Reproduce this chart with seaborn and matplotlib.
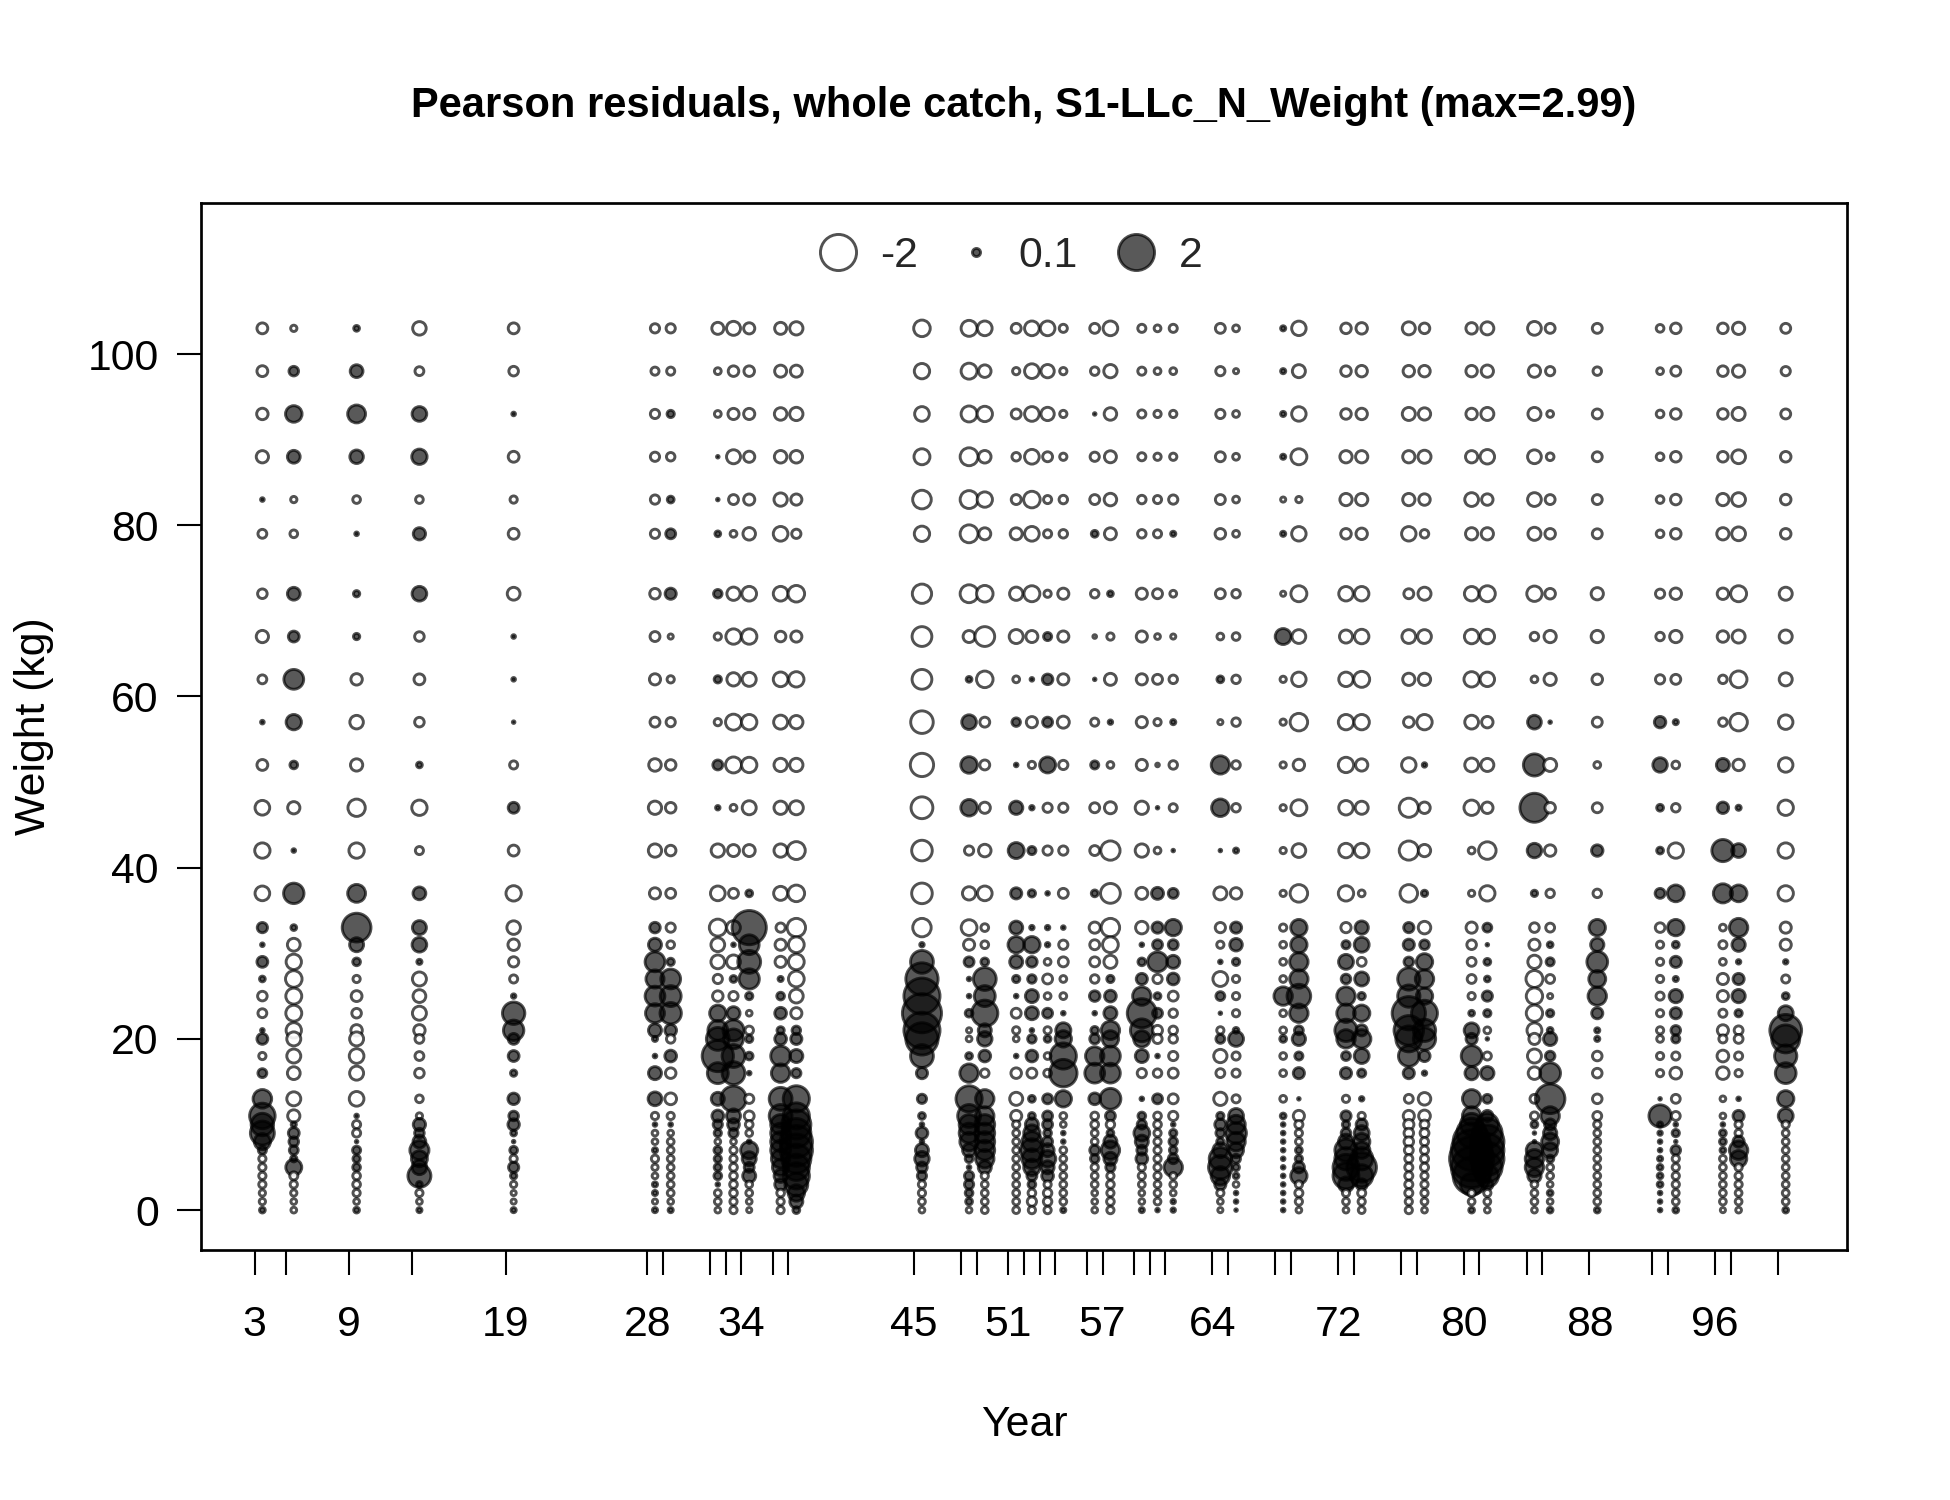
import numpy as np
import pandas as pd
import matplotlib
matplotlib.use("Agg")
import matplotlib.pyplot as plt
import seaborn as sns
from matplotlib.lines import Line2D

# ---------------- data ----------------
years = [3, 5, 9, 13, 19, 28, 29, 32, 33, 34, 36, 37, 45, 48, 49, 51, 52, 53, 54,
         56, 57, 59, 60, 61, 64, 65, 68, 69, 72, 73, 76, 77, 80, 81, 84, 85, 88,
         92, 93, 96, 97, 100]
labeled_years = [3, 9, 19, 28, 34, 45, 51, 57, 64, 72, 80, 88, 96]
# weight bins, listed from top (103 kg) to bottom (0 kg)
weights = [103, 98, 93, 88, 83, 79, 72, 67, 62, 57, 52, 47, 42, 37,
           33, 31, 29, 27, 25, 23, 21, 20, 18, 16, 13, 11, 10, 9, 8, 7, 6, 5, 4, 3, 2, 1, 0]
y_ticks = [0, 20, 40, 60, 80, 100]
legend_values = [-2, 0.1, 2]
legend_labels = ["-2", "0.1", "2"]
max_resid = 2.99
title = "Pearson residuals, whole catch, S1-LLc_N_Weight (max=2.99)"

# Pearson residuals per year, same order as `weights`
r3 = [-0.18,-0.18,-0.2,-0.23,0.02,-0.12,-0.14,-0.23,-0.12,0.02,-0.18,-0.33,-0.36,-0.33,
      0.16,0.02,0.18,0.05,-0.14,-0.12,0.02,0.18,-0.08,0.12,0.53,1.0,0.77,0.88,0.4,0.1,-0.08,-0.08,-0.08,-0.08,-0.06,-0.06,0.05]
r5 = [-0.06,0.14,0.42,0.25,-0.06,-0.09,0.25,0.18,0.6,0.36,0.09,-0.23,0.02,0.64,
      0.05,-0.25,-0.36,-0.42,-0.39,-0.39,-0.36,-0.3,-0.3,-0.25,-0.3,-0.23,0.04,0.18,0.14,0.12,0.06,0.39,-0.1,-0.08,-0.06,-0.05,-0.05]
r9 = [0.05,0.25,0.49,0.28,-0.09,0.02,0.06,0.06,-0.2,-0.28,-0.23,-0.46,-0.36,0.49,
      1.27,0.3,0.09,-0.08,-0.18,-0.14,-0.2,-0.3,-0.33,-0.3,-0.33,0.02,-0.1,-0.1,0.01,0.1,0.08,0.09,-0.09,-0.09,-0.08,-0.05,0.05]
r13 = [-0.28,-0.12,0.33,0.36,-0.09,0.23,0.33,-0.14,-0.18,-0.14,0.05,-0.36,-0.1,0.25,
       0.3,0.33,0.04,-0.3,-0.25,-0.3,-0.2,-0.12,-0.12,-0.14,-0.09,-0.06,0.23,0.14,0.25,0.56,0.39,0.33,0.81,0.05,-0.08,-0.05,0.04]
r19 = [-0.18,-0.14,0.02,-0.18,-0.08,-0.18,-0.25,0.02,0.02,0.01,-0.1,0.18,-0.18,-0.36,
       -0.28,-0.2,-0.16,-0.1,0.03,0.77,0.64,0.18,0.18,0.06,0.2,0.14,0.2,0.05,0.01,0.09,-0.08,0.16,0.06,-0.06,-0.04,-0.04,0.04]
r28 = [-0.13,-0.1,-0.13,-0.13,-0.13,-0.13,-0.17,-0.15,-0.19,-0.15,-0.24,-0.27,-0.27,-0.19,
       0.17,0.26,0.6,0.5,0.6,0.55,0.26,0.04,0.02,0.26,0.29,-0.08,0.02,-0.05,-0.05,0.04,-0.08,-0.06,-0.05,0.04,0.04,-0.04,0.04]
r29 = [-0.13,-0.1,0.08,-0.11,0.07,0.15,0.19,-0.04,-0.08,-0.13,-0.17,-0.17,-0.17,-0.15,
       -0.13,-0.09,0.08,0.6,0.67,0.7,0.21,-0.11,0.21,-0.17,-0.21,-0.08,0.02,-0.05,-0.07,-0.07,-0.07,-0.07,-0.07,-0.07,-0.07,-0.05,0.04]
r32 = [-0.22,-0.07,-0.07,0.01,0.01,0.05,0.11,-0.08,0.08,-0.08,0.15,0.03,-0.27,-0.33,
       -0.44,-0.29,-0.29,-0.13,-0.17,0.41,0.6,0.8,1.5,0.67,0.26,0.21,0.13,0.08,-0.05,0.09,0.08,0.08,0.09,0.02,-0.07,-0.07,-0.05]
r33 = [-0.3,-0.17,-0.19,-0.3,-0.15,-0.07,-0.27,-0.36,-0.27,-0.39,-0.39,-0.07,-0.22,-0.15,
       -0.29,0.02,-0.29,0.07,-0.13,0.26,0.67,0.6,0.8,0.8,1.0,0.3,0.21,0.13,-0.05,-0.08,-0.08,-0.09,-0.09,-0.09,-0.09,-0.08,-0.08]
r34 = [-0.19,-0.17,-0.19,-0.19,-0.19,-0.24,-0.33,-0.36,-0.3,-0.36,-0.36,-0.3,-0.22,0.07,
       1.8,0.6,0.8,0.63,0.08,-0.05,-0.11,0.08,0.09,0.02,-0.13,-0.15,-0.09,-0.07,0.02,0.45,0.3,0.15,0.26,-0.07,-0.07,-0.05,-0.04]
r36 = [-0.22,-0.22,-0.24,-0.24,-0.27,-0.33,-0.33,-0.17,-0.33,-0.3,-0.27,-0.27,-0.27,-0.3,
       -0.13,-0.19,-0.19,0.04,0.09,0.21,0.08,0.21,0.6,0.52,0.8,0.8,0.6,0.6,0.6,0.6,0.52,0.41,0.26,0.21,-0.09,-0.08,-0.08]
r37 = [-0.27,-0.22,-0.27,-0.24,-0.19,-0.13,-0.42,-0.19,-0.36,-0.27,-0.27,-0.3,-0.49,-0.42,
       -0.52,-0.38,-0.38,-0.38,-0.29,-0.19,0.11,0.19,0.26,0.13,1.05,1.05,1.3,1.3,1.6,1.6,1.3,1.05,1.05,0.8,0.41,0.26,0.07]
r45 = [-0.42,-0.36,-0.33,-0.39,-0.53,-0.36,-0.57,-0.6,-0.6,-0.78,-0.83,-0.73,-0.65,-0.65,
       -0.52,0.03,0.8,1.6,2.0,2.35,2.0,1.6,0.8,0.19,0.13,0.07,0.02,0.21,0.02,0.26,0.32,0.17,0.13,-0.08,-0.08,-0.07,-0.05]
r48 = [-0.39,-0.39,-0.39,-0.49,-0.49,-0.49,-0.49,-0.22,0.05,0.33,0.42,0.42,-0.13,-0.27,
       -0.38,-0.19,0.15,0.02,0.02,0.09,-0.04,-0.05,0.07,0.52,1.05,0.8,0.6,0.6,0.52,0.26,0.09,0.02,0.13,0.13,0.09,0.07,-0.05]
r49 = [-0.33,-0.24,-0.36,-0.24,-0.36,-0.22,-0.42,-0.6,-0.42,-0.15,-0.15,-0.19,-0.24,-0.33,
       -0.09,-0.09,0.09,0.8,0.67,1.05,0.26,0.32,0.21,-0.11,0.52,0.52,0.6,0.6,0.6,0.6,0.52,0.26,-0.08,-0.07,-0.07,-0.07,-0.07]
r51 = [-0.15,-0.08,-0.15,-0.11,-0.15,-0.22,-0.27,-0.3,-0.07,0.11,0.02,0.27,0.39,0.19,
       0.26,0.41,0.26,0.08,0.02,-0.15,-0.08,-0.05,0.02,-0.17,-0.26,-0.19,-0.08,-0.07,-0.07,-0.07,-0.07,-0.07,-0.07,-0.07,-0.07,-0.07,-0.07]
r52 = [-0.33,-0.33,-0.33,-0.33,-0.42,-0.33,-0.39,-0.22,0.02,-0.19,-0.08,0.03,0.1,0.08,
       0.03,0.41,0.17,0.11,0.26,0.26,0.02,0.11,0.21,-0.15,0.07,0.07,0.26,0.41,0.6,0.8,0.6,0.41,0.15,0.09,-0.09,-0.13,-0.08]
r53 = [-0.33,-0.27,-0.27,-0.15,-0.1,-0.1,-0.08,0.1,0.17,0.15,0.39,-0.13,-0.13,0.02,
       0.03,0.03,-0.07,-0.15,-0.07,0.15,-0.08,0.07,-0.07,-0.09,0.15,0.15,0.15,0.09,0.15,0.26,0.41,0.26,0.21,-0.08,-0.11,-0.11,-0.08]
r54 = [-0.1,-0.08,-0.08,-0.08,-0.11,-0.11,-0.19,-0.19,-0.19,-0.22,-0.13,-0.13,-0.13,-0.15,
       0.02,-0.13,-0.15,-0.07,-0.07,0.02,0.35,0.41,1.05,1.16,0.41,-0.07,-0.05,0.02,0.02,-0.07,-0.07,-0.07,-0.07,-0.07,-0.07,-0.07,0.04]
r56 = [-0.15,-0.11,0.01,-0.13,-0.15,0.07,-0.11,-0.02,0.01,-0.1,0.1,-0.15,-0.15,0.07,
       -0.19,-0.15,-0.15,-0.11,0.17,0.02,0.09,0.15,0.52,0.6,0.21,-0.09,-0.09,-0.07,-0.07,0.15,0.11,-0.08,-0.07,-0.07,-0.05,-0.05,-0.05]
r57 = [-0.33,-0.27,-0.24,-0.22,-0.24,-0.22,0.05,-0.08,-0.22,0.03,-0.07,-0.22,-0.57,-0.6,
       -0.52,-0.38,-0.26,0.08,0.21,0.26,0.52,0.41,0.6,0.6,0.67,0.15,-0.11,0.07,0.26,0.52,0.26,0.13,-0.08,-0.09,-0.08,-0.09,-0.08]
r59 = [-0.1,-0.1,-0.1,-0.1,-0.11,-0.11,-0.19,-0.19,-0.19,-0.19,-0.19,-0.27,-0.27,-0.22,
       -0.24,0.02,0.09,0.19,0.52,1.3,0.8,0.41,0.26,-0.13,0.02,0.09,0.13,0.38,0.26,0.15,0.21,-0.08,-0.08,-0.07,-0.05,-0.05,0.04]
r60 = [-0.07,-0.07,-0.08,-0.08,-0.1,-0.1,-0.15,-0.05,-0.15,-0.08,-0.02,0.01,-0.07,0.22,
       0.19,0.15,0.6,-0.13,0.07,0.15,-0.15,-0.13,0.02,-0.11,0.15,-0.09,-0.09,-0.08,-0.08,-0.08,-0.08,-0.08,-0.08,-0.07,-0.07,-0.07,0.02]
r61 = [-0.1,-0.07,-0.08,-0.08,-0.13,0.04,-0.07,-0.04,-0.11,0.04,-0.11,-0.1,0.01,0.15,
       0.41,0.15,0.26,0.21,-0.15,-0.11,-0.11,-0.11,-0.13,-0.15,-0.15,-0.13,0.02,0.08,0.11,0.09,0.15,0.52,-0.07,-0.07,-0.05,0.03,0.03]
r64 = [-0.15,-0.13,-0.13,-0.15,-0.15,-0.17,-0.15,-0.07,0.07,-0.04,0.51,0.47,0.01,-0.26,
       -0.16,-0.08,0.02,-0.34,0.12,0.01,-0.08,0.12,-0.27,-0.12,-0.27,0.08,0.19,0.12,0.08,0.34,0.76,0.86,0.52,0.19,-0.08,-0.05,-0.04]
r65 = [-0.07,-0.04,-0.07,-0.07,-0.07,-0.07,-0.11,-0.09,-0.11,-0.11,-0.11,-0.11,0.04,-0.2,
       0.19,0.24,0.08,-0.08,-0.08,-0.08,0.05,0.34,-0.1,-0.1,-0.1,0.34,0.52,0.66,0.52,0.34,0.12,0.07,0.05,-0.05,0.02,0.02,0.01]
r68 = [0.04,0.04,0.04,0.04,-0.04,0.04,-0.04,0.39,-0.06,-0.06,-0.06,-0.06,-0.06,-0.06,
       -0.08,-0.07,-0.07,-0.07,0.52,-0.07,-0.07,0.07,-0.07,-0.07,-0.07,0.05,0.02,0.02,0.02,0.02,0.02,0.02,0.02,0.02,0.02,0.02,0.02]
r69 = [-0.32,-0.26,-0.32,-0.39,-0.06,-0.32,-0.39,-0.29,-0.32,-0.47,-0.2,-0.39,-0.29,-0.47,
       0.41,0.41,0.52,0.52,0.86,0.52,0.12,0.27,0.1,0.19,0.01,-0.19,-0.1,-0.08,-0.07,0.07,0.08,0.19,0.41,-0.08,-0.1,-0.08,-0.05]
r72 = [-0.17,-0.17,-0.17,-0.23,-0.23,-0.17,-0.32,-0.26,-0.32,-0.36,-0.36,-0.32,-0.32,-0.36,
       -0.16,0.1,0.34,0.14,0.52,0.52,0.76,0.52,0.12,0.19,-0.08,0.16,0.08,0.14,0.34,0.76,0.76,1.03,1.03,0.34,-0.08,-0.07,-0.05]
r73 = [-0.2,-0.2,-0.2,-0.23,-0.23,-0.2,-0.32,-0.32,-0.39,-0.36,-0.23,-0.26,-0.32,-0.07,
       0.27,0.34,-0.12,0.3,0.08,0.41,0.19,0.52,0.34,0.1,0.03,-0.08,0.19,0.34,0.41,0.41,0.76,1.34,0.76,0.19,-0.1,-0.08,-0.07]
r76 = [-0.26,-0.2,-0.26,-0.23,-0.23,-0.32,-0.15,-0.29,-0.23,-0.17,-0.32,-0.56,-0.56,-0.47,
       0.16,0.19,0.14,0.76,0.76,1.7,1.34,1.03,0.66,0.19,-0.12,-0.19,-0.16,-0.14,-0.14,-0.12,-0.1,-0.1,-0.1,-0.1,-0.1,-0.08,-0.08]
r77 = [-0.17,-0.2,-0.23,-0.26,-0.2,-0.11,-0.26,-0.29,-0.23,-0.36,0.03,-0.2,-0.23,0.06,
       -0.24,0.14,0.41,0.52,0.41,1.03,0.76,0.76,0.19,0.03,-0.24,-0.21,-0.12,-0.12,-0.1,-0.1,-0.1,-0.1,-0.08,-0.08,-0.08,-0.07,-0.05]
r80 = [-0.2,-0.2,-0.2,-0.23,-0.29,-0.23,-0.32,-0.32,-0.36,-0.29,-0.29,-0.36,-0.07,-0.06,
       -0.19,-0.14,-0.12,-0.12,-0.08,0.05,0.34,0.19,0.66,0.27,0.52,0.52,0.76,1.34,2.1,2.54,2.99,2.54,2.1,0.76,-0.08,-0.07,0.05]
r81 = [-0.26,-0.23,-0.26,-0.32,-0.2,-0.23,-0.39,-0.32,-0.32,-0.2,-0.26,-0.2,-0.47,-0.36,
       0.12,0.01,0.07,0.05,0.16,0.08,-0.07,0.01,-0.1,0.27,0.12,0.19,0.76,1.34,1.7,1.7,1.7,1.34,0.76,0.19,-0.08,-0.07,-0.05]
r84 = [-0.29,-0.23,-0.26,-0.29,-0.29,-0.26,-0.36,-0.11,-0.07,0.29,0.75,1.29,0.32,0.06,
       -0.14,-0.19,-0.27,-0.44,-0.41,-0.41,-0.34,-0.19,-0.3,-0.24,-0.12,-0.1,0.07,0.01,0.01,0.41,0.52,0.52,0.27,-0.07,-0.07,-0.07,-0.05]
r85 = [-0.15,-0.13,-0.07,-0.09,-0.15,-0.17,-0.17,-0.23,-0.23,0.01,-0.26,-0.17,-0.2,-0.11,
       -0.12,0.05,0.1,-0.12,-0.04,0.08,0.05,0.27,0.14,0.66,1.34,0.52,0.19,0.27,0.44,0.34,0.08,-0.07,-0.07,-0.05,0.05,-0.05,0.05]
r88 = [-0.15,-0.11,-0.15,-0.15,-0.15,-0.15,-0.23,-0.23,-0.17,-0.15,-0.07,-0.15,0.2,-0.11,
       0.41,0.27,0.66,0.44,0.52,0.19,0.04,0.04,-0.14,-0.14,-0.14,-0.12,-0.08,-0.07,-0.07,-0.07,-0.07,-0.07,-0.07,-0.07,-0.07,-0.07,0.05]
r92 = [-0.09,-0.07,-0.09,-0.09,-0.09,-0.09,-0.13,-0.11,-0.13,0.2,0.32,0.07,0.07,0.15,
       -0.14,-0.08,-0.08,-0.08,-0.1,-0.08,-0.08,-0.07,-0.08,-0.08,0.01,0.76,0.04,0.03,0.02,0.02,0.04,0.05,0.05,0.05,0.02,0.02,0.02]
r93 = [-0.17,-0.15,-0.17,-0.17,-0.17,-0.17,-0.2,-0.23,-0.15,0.04,-0.09,-0.11,-0.36,0.43,
       0.41,0.07,0.19,0.04,0.27,0.19,0.14,0.1,-0.1,-0.21,-0.12,-0.12,0.02,0.08,0.01,0.14,-0.08,-0.08,-0.08,-0.08,-0.07,-0.07,0.05]
r96 = [-0.17,-0.17,-0.17,-0.17,-0.23,-0.23,-0.2,-0.2,-0.11,-0.11,0.26,0.2,0.75,0.56,
       -0.07,-0.1,-0.07,-0.19,-0.19,-0.1,-0.19,-0.1,-0.21,-0.24,-0.05,-0.05,0.02,0.07,0.07,0.05,-0.07,-0.07,-0.07,-0.07,-0.07,-0.07,-0.04]
r97 = [-0.23,-0.23,-0.26,-0.29,-0.29,-0.29,-0.39,-0.26,-0.43,-0.47,-0.2,0.04,0.29,0.43,
       0.52,0.27,0.03,0.19,0.27,0.08,-0.12,-0.12,-0.1,-0.08,0.02,0.19,-0.08,-0.08,0.19,0.52,0.41,-0.08,-0.08,-0.08,-0.07,-0.07,-0.05]
r100 = [-0.15,-0.13,-0.15,-0.17,-0.17,-0.17,-0.26,-0.26,-0.26,-0.32,-0.32,-0.36,-0.36,-0.36,
        -0.19,-0.19,0.03,-0.1,0.07,0.34,1.55,1.2,0.76,0.66,0.41,0.34,-0.08,-0.07,-0.07,-0.07,-0.07,-0.07,-0.07,-0.07,-0.07,-0.07,0.05]

resid_by_year = {3: r3, 5: r5, 9: r9, 13: r13, 19: r19, 28: r28, 29: r29, 32: r32,
                 33: r33, 34: r34, 36: r36, 37: r37, 45: r45, 48: r48, 49: r49,
                 51: r51, 52: r52, 53: r53, 54: r54, 56: r56, 57: r57, 59: r59,
                 60: r60, 61: r61, 64: r64, 65: r65, 68: r68, 69: r69, 72: r72,
                 73: r73, 76: r76, 77: r77, 80: r80, 81: r81, 84: r84, 85: r85,
                 88: r88, 92: r92, 93: r93, 96: r96, 97: r97, 100: r100}

for yr, vals in resid_by_year.items():
    if len(vals) != len(weights):
        raise ValueError(f"year {yr}: {len(vals)} values")

rows = []
for yr in years:
    for w, r in zip(weights, resid_by_year[yr]):
        rows.append((yr, w, r))
df = pd.DataFrame(rows, columns=["year", "weight", "resid"])
df["xpos"] = df["year"] + 0.5          # bubbles sit in the middle of the year
df["sign"] = np.where(df["resid"] > 0, "pos", "neg")
df["absres"] = df["resid"].abs()

# ---------------- style ----------------
sns.set_theme(style="white")
plt.rcParams["font.family"] = ["Liberation Sans", "DejaVu Sans"]

POS_FACE = (0, 0, 0, 0.65)
NEG_FACE = (1, 1, 1, 0.9)
EDGE = (0, 0, 0, 0.68)
LW = 1.4
AREA_PER_UNIT = 150.0   # pt^2 per unit |residual|
FS = 20.5

fig = plt.figure(figsize=(13, 10), dpi=150, facecolor="white")
ax = fig.add_axes([0.1033, 0.167, 0.8437, 0.698])

sns.scatterplot(data=df, x="xpos", y="weight", hue="sign",
                palette={"pos": POS_FACE, "neg": NEG_FACE},
                size="absres", sizes=(0, AREA_PER_UNIT * max_resid),
                size_norm=(0, max_resid),
                edgecolor=EDGE, linewidth=LW, legend=False, ax=ax)

ax.set_xlim(-0.38, 104.38)
ax.set_ylim(-4.6, 117.7)

ax.set_xticks(years)
ax.set_xticklabels([str(y) if y in labeled_years else "" for y in years])
ax.set_yticks(y_ticks)
ax.set_yticklabels([str(v) for v in y_ticks])
ax.tick_params(axis="x", bottom=True, length=12, width=1.0, color="black",
               pad=14.5, labelsize=FS, labelcolor="black")
ax.tick_params(axis="y", left=True, length=11.5, width=1.0, color="black",
               pad=9, labelsize=FS, labelcolor="black")
for sp in ax.spines.values():
    sp.set_color("black")
    sp.set_linewidth(1.3)
ax.grid(False)

ax.set_xlabel("Year", fontsize=FS, color="black")
ax.xaxis.label.set_va("center")
ax.xaxis.set_label_coords(0.5, -0.168)
ax.set_ylabel("Weight (kg)", fontsize=FS, color="black")
ax.yaxis.label.set_va("center")
ax.yaxis.set_label_coords(-0.102, 0.5)

ax.text(0.5, 1.092, title, transform=ax.transAxes, ha="center", va="center",
        fontsize=20, fontweight="bold", color="black")

handles = []
for v in legend_values:
    handles.append(Line2D([], [], ls="", marker="o",
                          markersize=np.sqrt(AREA_PER_UNIT * abs(v)),
                          markerfacecolor=POS_FACE if v > 0 else NEG_FACE,
                          markeredgecolor=EDGE, markeredgewidth=LW))
ax.legend(handles, legend_labels, ncol=3, loc="center",
          bbox_to_anchor=(0.491, 0.949), frameon=False, fontsize=FS,
          handlelength=1.0, handletextpad=0.5, columnspacing=0.85,
          borderaxespad=0)

fig.savefig("out.png", dpi=150, facecolor="white")
